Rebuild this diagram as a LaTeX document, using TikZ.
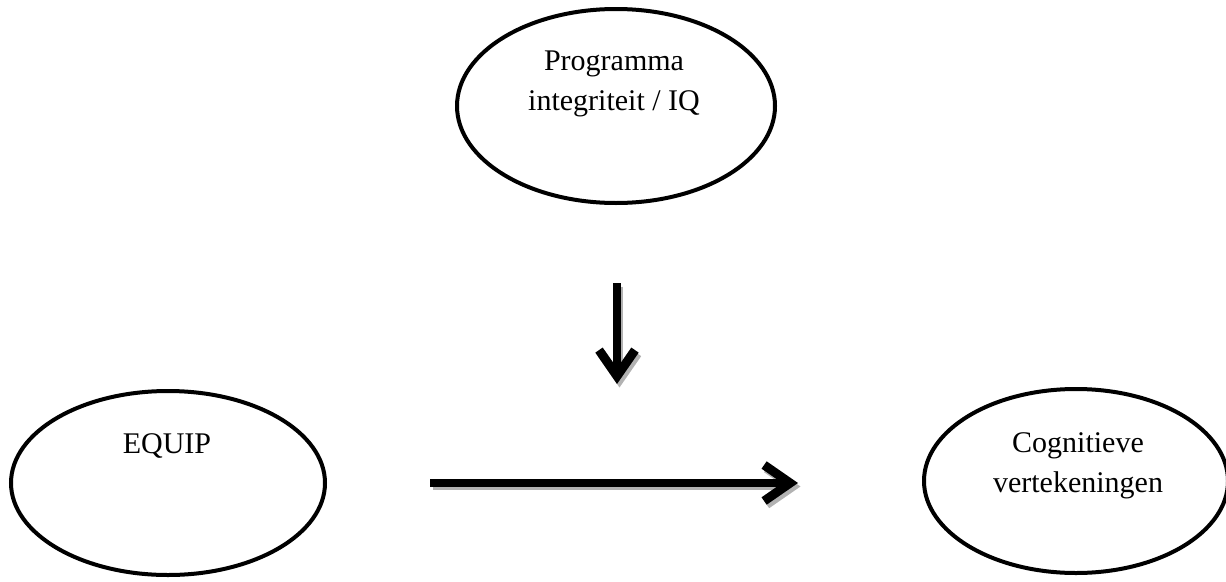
\documentclass[tikz,border=0pt]{standalone}
\usepackage{fontspec}
\setmainfont{Liberation Serif}
\usetikzlibrary{shapes.geometric,arrows.meta}
\begin{document}
\begin{tikzpicture}[x=1pt,y=-1pt,
  oval/.style={ellipse, draw=black, line width=4pt, minimum width=#1},
  lbl/.style={align=center, font=\fontsize{30}{40}\selectfont, inner sep=0pt},
  flowtip/.style={line width=7.5pt, -{Straight Barb[length=26pt,width=36pt,line width=9pt]}},
  flow/.style={flowtip, black},
  flowshade/.style={flowtip, draw=black!30, transform canvas={shift={(2.5pt,-3.5pt)}}}]
\useasboundingbox (0,0) rectangle (1226,581);

% ellipses
\node[oval=318pt, minimum height=194pt] (prog) at (616,106) {};
\node[oval=314pt, minimum height=184pt] (equip) at (168,483) {};
\node[oval=304pt, minimum height=184pt] (cogn) at (1076,481) {};

% their texts
\node[lbl] (progtxt) at (614,84) {Programma\\integriteit / IQ};
\node[lbl] (equiptxt) at (167,446) {EQUIP};
\node[lbl] (cogntxt) at (1078,466) {Cognitieve\\vertekeningen};

% free-standing arrows with a grey shade under them
\coordinate (dstart) at (617,283);
\coordinate (dend) at (617,384);
\coordinate (hstart) at (430,483);
\coordinate (hend) at (798,483);
\draw[flowshade] (dstart) -- (dend);
\draw[flowshade] (hstart) -- (hend);
\draw[flow] (dstart) -- (dend);
\draw[flow] (hstart) -- (hend);
\end{tikzpicture}
\end{document}
